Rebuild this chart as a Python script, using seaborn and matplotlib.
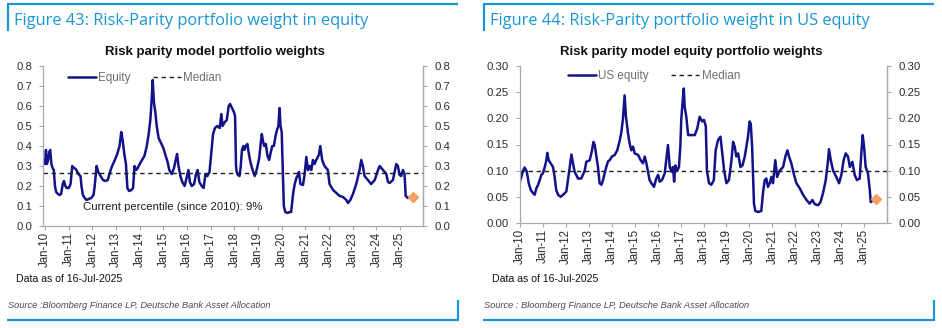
import matplotlib
matplotlib.use("Agg")
import matplotlib.pyplot as plt
from matplotlib.lines import Line2D
import pandas as pd
import seaborn as sns

# ---- Risk parity model: total equity weight (decimal year, weight) ----
equity_year = [
    2010.00, 2010.04, 2010.08, 2010.13, 2010.18, 2010.22, 2010.27, 2010.32, 2010.37, 2010.42,
    2010.47, 2010.55, 2010.62, 2010.68, 2010.75, 2010.80, 2010.86, 2010.92,
    2011.00, 2011.08, 2011.15, 2011.22, 2011.30, 2011.37, 2011.44, 2011.50, 2011.54, 2011.60,
    2011.68, 2011.75, 2011.85, 2011.95,
    2012.05, 2012.10, 2012.18, 2012.25, 2012.35, 2012.45, 2012.55, 2012.65, 2012.80, 2012.95,
    2013.05, 2013.15, 2013.22, 2013.28, 2013.35, 2013.42, 2013.48, 2013.55, 2013.65, 2013.72,
    2013.78, 2013.85, 2013.92,
    2014.00, 2014.10, 2014.20, 2014.30, 2014.38, 2014.45, 2014.50, 2014.55, 2014.60, 2014.66,
    2014.72, 2014.80, 2014.88,
    2015.00, 2015.10, 2015.18, 2015.25, 2015.35, 2015.45, 2015.52, 2015.58, 2015.64, 2015.72,
    2015.80, 2015.90,
    2016.00, 2016.06, 2016.12, 2016.20, 2016.30, 2016.38, 2016.45, 2016.52, 2016.62, 2016.70,
    2016.78, 2016.86, 2016.95,
    2017.02, 2017.10, 2017.18, 2017.28, 2017.38, 2017.45, 2017.50, 2017.60, 2017.68, 2017.76,
    2017.82, 2017.90, 2017.98,
    2018.03, 2018.07, 2018.10, 2018.15, 2018.22, 2018.27, 2018.32, 2018.38, 2018.42, 2018.48,
    2018.55, 2018.60, 2018.66, 2018.72, 2018.80, 2018.86, 2018.92, 2018.98,
    2019.05, 2019.12, 2019.16, 2019.20, 2019.26, 2019.33, 2019.40, 2019.47, 2019.54, 2019.60,
    2019.67, 2019.74, 2019.80, 2019.86, 2019.91, 2019.95,
    2020.00, 2020.04, 2020.09, 2020.15, 2020.25, 2020.33, 2020.40, 2020.48, 2020.55, 2020.62,
    2020.69, 2020.73, 2020.79, 2020.90, 2020.97,
    2021.04, 2021.11, 2021.18, 2021.25, 2021.32, 2021.39, 2021.46, 2021.57, 2021.63, 2021.71,
    2021.81, 2021.95,
    2022.02, 2022.17, 2022.31, 2022.45, 2022.59, 2022.73, 2022.80, 2022.90,
    2023.01, 2023.15, 2023.29, 2023.36, 2023.43, 2023.50, 2023.64, 2023.78, 2023.93,
    2024.07, 2024.14, 2024.28, 2024.42, 2024.49, 2024.56, 2024.70, 2024.84, 2024.91, 2024.98,
    2025.05, 2025.12, 2025.19, 2025.24, 2025.33, 2025.45,
]
equity_weight = [
    0.31, 0.38, 0.31, 0.33, 0.37, 0.38, 0.31, 0.29, 0.28, 0.20,
    0.17, 0.16, 0.155, 0.16, 0.21, 0.225, 0.20, 0.19,
    0.19, 0.21, 0.30, 0.29, 0.285, 0.27, 0.255, 0.25, 0.20, 0.155,
    0.14, 0.13, 0.135, 0.14,
    0.155, 0.20, 0.30, 0.27, 0.25, 0.23, 0.225, 0.23, 0.29, 0.33,
    0.36, 0.40, 0.47, 0.43, 0.36, 0.31, 0.19, 0.175, 0.18, 0.19,
    0.30, 0.28, 0.29,
    0.31, 0.33, 0.35, 0.40, 0.46, 0.53, 0.62, 0.73, 0.62, 0.57,
    0.50, 0.44, 0.42,
    0.39, 0.35, 0.32, 0.28, 0.26, 0.29, 0.33, 0.36, 0.30, 0.25,
    0.22, 0.20,
    0.25, 0.28, 0.22, 0.20, 0.21, 0.26, 0.28, 0.22, 0.20, 0.19,
    0.26, 0.25, 0.27,
    0.36, 0.46, 0.49, 0.50, 0.49, 0.56, 0.50, 0.52, 0.53, 0.60,
    0.61, 0.59, 0.57,
    0.55, 0.30, 0.27, 0.255, 0.25, 0.30, 0.38, 0.40, 0.38, 0.40,
    0.41, 0.37, 0.33, 0.30, 0.27, 0.25, 0.27, 0.30,
    0.34, 0.42, 0.46, 0.43, 0.40, 0.41, 0.35, 0.33, 0.37, 0.40,
    0.40, 0.45, 0.48, 0.50, 0.59, 0.50,
    0.47, 0.30, 0.10, 0.07, 0.065, 0.07, 0.07, 0.16, 0.21, 0.24,
    0.255, 0.27, 0.21, 0.205, 0.26,
    0.345, 0.28, 0.30, 0.28, 0.33, 0.31, 0.33, 0.355, 0.40, 0.33,
    0.30, 0.28,
    0.21, 0.18, 0.165, 0.15, 0.145, 0.13, 0.115, 0.13,
    0.16, 0.21, 0.28, 0.33, 0.30, 0.25, 0.23, 0.21, 0.23,
    0.28, 0.30, 0.28, 0.26, 0.22, 0.215, 0.23, 0.31, 0.30, 0.255,
    0.25, 0.28, 0.26, 0.15, 0.14, 0.145,
]
equity_median = 0.265
equity_latest = (2025.54, 0.147)

# ---- Risk parity model: US equity weight ----
us_year = [
    2010.00, 2010.06, 2010.13, 2010.20, 2010.28, 2010.32, 2010.38, 2010.47, 2010.57, 2010.64,
    2010.71, 2010.78, 2010.86, 2010.93,
    2011.00, 2011.08, 2011.15, 2011.19, 2011.25, 2011.34, 2011.44, 2011.51, 2011.58, 2011.66,
    2011.77, 2011.88,
    2012.02, 2012.09, 2012.17, 2012.24, 2012.31, 2012.38, 2012.53, 2012.67, 2012.82, 2012.89,
    2013.04, 2013.14, 2013.20, 2013.26, 2013.33, 2013.40, 2013.47, 2013.55, 2013.62, 2013.69,
    2013.76, 2013.84, 2013.91,
    2014.01, 2014.13, 2014.24, 2014.35, 2014.42, 2014.49, 2014.56, 2014.62, 2014.71, 2014.78,
    2014.85, 2014.93,
    2015.00, 2015.15, 2015.26, 2015.36, 2015.44, 2015.51, 2015.58, 2015.65, 2015.73, 2015.84,
    2015.94,
    2016.02, 2016.09, 2016.19, 2016.31, 2016.41, 2016.45, 2016.53, 2016.60, 2016.67, 2016.72,
    2016.77, 2016.86, 2016.93, 2016.99,
    2017.03, 2017.09, 2017.14, 2017.18, 2017.25, 2017.33, 2017.47, 2017.62, 2017.73, 2017.83,
    2017.94,
    2018.02, 2018.10, 2018.15, 2018.24, 2018.34, 2018.45, 2018.53, 2018.63, 2018.74, 2018.82,
    2018.90,
    2019.00, 2019.11, 2019.22, 2019.29, 2019.36, 2019.43, 2019.51, 2019.61, 2019.70, 2019.80,
    2019.87, 2019.94,
    2020.01, 2020.06, 2020.12, 2020.16, 2020.20, 2020.26, 2020.38, 2020.52, 2020.60, 2020.67,
    2020.74, 2020.81, 2020.89, 2020.96,
    2021.03, 2021.13, 2021.21, 2021.32, 2021.47, 2021.57, 2021.66, 2021.73, 2021.83, 2021.93,
    2022.05, 2022.20, 2022.34, 2022.49, 2022.63, 2022.75, 2022.85,
    2023.00, 2023.10, 2023.21, 2023.33, 2023.43, 2023.47, 2023.55, 2023.65, 2023.79, 2023.91,
    2024.01, 2024.11, 2024.20, 2024.30, 2024.38, 2024.49, 2024.59, 2024.69, 2024.81, 2024.88,
    2024.94,
    2025.00, 2025.07, 2025.17, 2025.25, 2025.29, 2025.39, 2025.45,
]
us_weight = [
    0.080, 0.088, 0.100, 0.106, 0.100, 0.092, 0.076, 0.063, 0.057, 0.054,
    0.066, 0.072, 0.082, 0.092,
    0.095, 0.107, 0.120, 0.134, 0.120, 0.114, 0.107, 0.088, 0.063, 0.054,
    0.050, 0.054,
    0.060, 0.082, 0.107, 0.131, 0.114, 0.098, 0.085, 0.085, 0.100, 0.117,
    0.120, 0.139, 0.155, 0.149, 0.127, 0.107, 0.076, 0.073, 0.082, 0.095,
    0.107, 0.118, 0.120,
    0.127, 0.130, 0.139, 0.158, 0.174, 0.200, 0.244, 0.203, 0.171, 0.152,
    0.139, 0.146,
    0.133, 0.130, 0.120, 0.114, 0.127, 0.114, 0.098, 0.082, 0.076, 0.069,
    0.085,
    0.092, 0.079, 0.082, 0.095, 0.133, 0.149, 0.107, 0.098, 0.107, 0.079,
    0.110, 0.100, 0.107, 0.146,
    0.197, 0.232, 0.257, 0.222, 0.203, 0.168, 0.168, 0.168, 0.181, 0.203,
    0.194,
    0.197, 0.185, 0.100, 0.076, 0.073, 0.082, 0.139, 0.158, 0.165, 0.133,
    0.100,
    0.076, 0.082, 0.120, 0.155, 0.146, 0.127, 0.133, 0.107, 0.110, 0.127,
    0.146, 0.165,
    0.194, 0.190, 0.146, 0.088, 0.037, 0.023, 0.021, 0.023, 0.060, 0.082,
    0.085, 0.069, 0.076, 0.088,
    0.076, 0.120, 0.088, 0.100, 0.107, 0.127, 0.139, 0.127, 0.114, 0.095,
    0.076, 0.066, 0.054, 0.044, 0.037, 0.044, 0.036,
    0.034, 0.040, 0.057, 0.082, 0.120, 0.141, 0.120, 0.100, 0.088, 0.076,
    0.092, 0.120, 0.133, 0.127, 0.107, 0.117, 0.092, 0.082, 0.085, 0.133,
    0.168,
    0.146, 0.107, 0.095, 0.063, 0.040, 0.043, 0.043,
]
us_median = 0.10
us_latest = (2025.54, 0.045)

tick_years = list(range(2010, 2026))
tick_labels = [f"Jan-{y % 100:02d}" for y in tick_years]

# ---- styling ----
sns.set_style("white")
plt.rcParams["font.family"] = ["Liberation Sans", "DejaVu Sans"]

W, H = 942, 328
NAVY = "#12128a"
ORANGE = "#f5a05c"
BLUE = "#1b96d3"
AXIS_GRAY = "#a8a8a8"
TEXT = "#2b2b2b"

fig = plt.figure(figsize=(W / 100, H / 100), dpi=100)


def fx(px):
    return px / W


def fy(py):
    return 1 - py / H


def rule(x0, y0, x1, y1, lw=1.6):
    fig.add_artist(Line2D([fx(x0), fx(x1)], [fy(y0), fy(y1)], color=BLUE,
                          linewidth=lw, solid_capstyle="butt"))


def panel(box, years, weights, median, latest, yticks, fmt, xlim, label,
          legend_at, title, title_x, heading, left_px, right_px, note=None):
    x0, y0, x1, y1 = box
    ax = fig.add_axes([fx(x0), fy(y1), (x1 - x0) / W, (y1 - y0) / H])
    df = pd.DataFrame({"year": years, "weight": weights})
    sns.lineplot(data=df, x="year", y="weight", ax=ax, color=NAVY,
                 linewidth=1.8, label=label)
    ax.axhline(median, color="#1e1e1e", linestyle=(0, (3.2, 2.6)),
               linewidth=1.0, label="Median")
    ax.plot([latest[0]], [latest[1]], marker="D", color=ORANGE,
            markersize=4.8, linestyle="none")

    ax.set_xlim(*xlim)
    ax.set_ylim(yticks[0], yticks[-1])
    ax.set_yticks(yticks)
    ax.set_yticklabels([fmt.format(t) for t in yticks])
    ax.set_xticks(tick_years)
    ax.set_xticklabels(tick_labels, rotation=90)
    ax.set_xlabel("")
    ax.set_ylabel("")

    for side in ("left", "bottom", "right"):
        ax.spines[side].set_color(AXIS_GRAY)
        ax.spines[side].set_linewidth(0.9)
    ax.spines["top"].set_visible(False)
    ax.tick_params(axis="y", direction="out", length=3, width=0.8,
                   color=AXIS_GRAY, labelsize=8.2, labelcolor=TEXT, pad=5,
                   left=True)
    ax.tick_params(axis="x", direction="out", length=3, width=0.8,
                   color=AXIS_GRAY, labelsize=8.3, labelcolor=TEXT, pad=1.5,
                   bottom=True)

    twin = ax.twinx()
    twin.set_ylim(yticks[0], yticks[-1])
    twin.set_yticks(yticks)
    twin.set_yticklabels([fmt.format(t) for t in yticks])
    for side in ("left", "bottom", "top"):
        twin.spines[side].set_visible(False)
    twin.spines["right"].set_color(AXIS_GRAY)
    twin.spines["right"].set_linewidth(0.9)
    twin.tick_params(axis="y", direction="out", length=3, width=0.8,
                     color=AXIS_GRAY, labelsize=8.2, labelcolor=TEXT, pad=5,
                     right=True)
    twin.grid(False)

    ax.legend(loc="center left", bbox_to_anchor=legend_at, ncol=2,
              frameon=False, handlelength=2.4, handletextpad=0.2,
              columnspacing=1.9, borderpad=0, borderaxespad=0,
              fontsize=8.4, labelcolor="#6e6e6e")

    if note is not None:
        ax.text(note[0], note[1], note[2], fontsize=8.2, color="#1e1e1e",
                va="center", ha="left")

    fig.text(fx(title_x), fy(52), title, ha="center", va="center",
             fontsize=9.5, fontweight="bold", color="#111111")

    # panel frame: heading bar on top, source bar at bottom
    rule(left_px, 4, right_px, 4)
    rule(left_px + 0.8, 4, left_px + 0.8, 31)
    rule(left_px, 320, right_px + 1, 320)
    rule(right_px, 300, right_px, 320)
    fig.text(fx(left_px + 7), fy(21), heading, ha="left", va="center",
             fontsize=11.75, color=BLUE, family=["Open Sans", "DejaVu Sans"])
    fig.text(fx(left_px + 9), fy(279), "Data as of 16-Jul-2025", ha="left",
             va="center", fontsize=7.6, color="#111111")


panel((43, 66, 423, 226), equity_year, equity_weight, equity_median,
      equity_latest, [0.0, 0.1, 0.2, 0.3, 0.4, 0.5, 0.6, 0.7, 0.8], "{:.1f}",
      (2009.915, 2025.97), "Equity", (0.066, 0.925),
      "Risk parity model portfolio weights", 215,
      "Figure 43: Risk-Parity portfolio weight in equity", 7, 458,
      note=(2011.6, 0.095, "Current percentile (since 2010): 9%"))

panel((520, 66, 887, 223), us_year, us_weight, us_median, us_latest,
      [0.0, 0.05, 0.10, 0.15, 0.20, 0.25, 0.30], "{:.2f}",
      (2010.0, 2026.0), "US equity", (0.131, 0.936),
      "Risk parity model equity portfolio weights", 691,
      "Figure 44: Risk-Parity portfolio weight in US equity", 483, 934)

fig.text(fx(8), fy(306), "Source :Bloomberg Finance LP, Deutsche Bank Asset Allocation",
         ha="left", va="center", fontsize=6.7, style="italic", color="#4a4a4a")
fig.text(fx(484), fy(306), "Source : Bloomberg Finance LP, Deutsche Bank Asset Allocation",
         ha="left", va="center", fontsize=6.7, style="italic", color="#4a4a4a")

fig.savefig("out.png", dpi=100, facecolor="white")
